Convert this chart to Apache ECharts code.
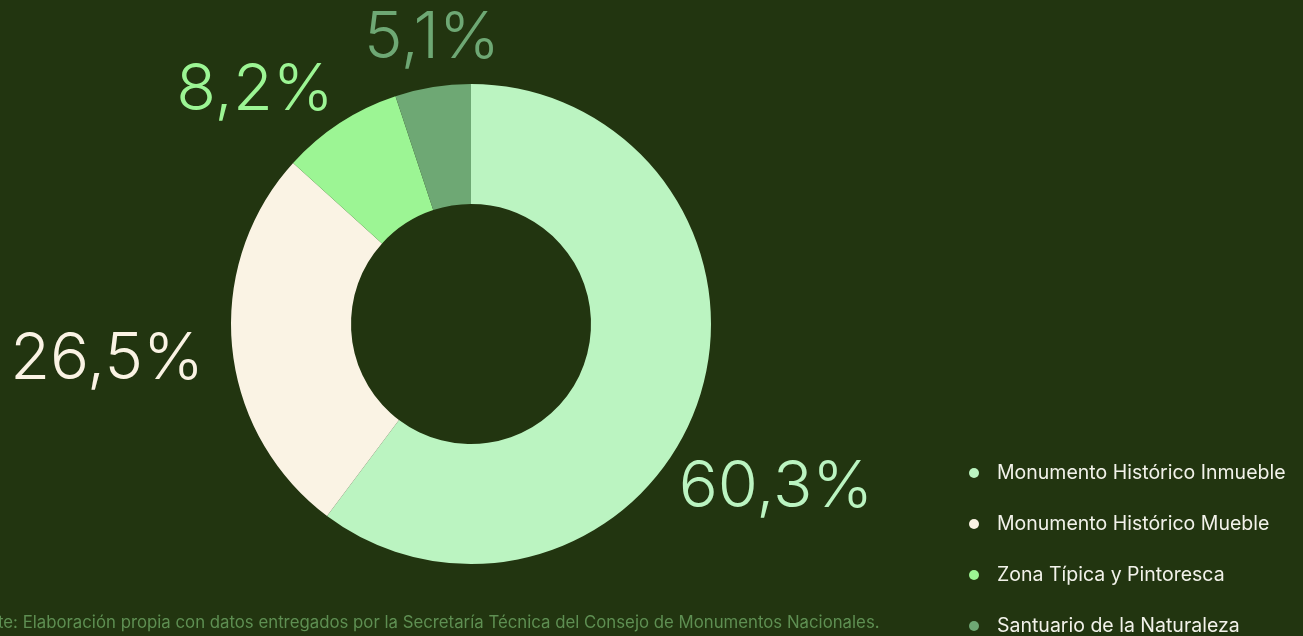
<!DOCTYPE html>
<html>
<head>
<meta charset="utf-8">
<style>
html,body{margin:0;padding:0;background:#223510;}
#c{width:1303px;height:636px;}
</style>
<script src="https://cdn.jsdelivr.net/npm/echarts@6/dist/echarts.min.js"></script>
</head>
<body>
<div id="c"></div>
<script>
const categories = ['Monumento Histórico Inmueble','Monumento Histórico Mueble','Zona Típica y Pintoresca','Santuario de la Naturaleza'];
const values = [60.3, 26.5, 8.2, 5.1];
const labels = ['60,3%','26,5%','8,2%','5,1%'];
const colors = ['#bbf4c1','#faf3e4','#9cf594','#6ea874'];
const source = 'Fuente: Elaboración propia con datos entregados por la Secretaría Técnica del Consejo de Monumentos Nacionales.';

// label offsets from the pie centre (layout only)
const labelOffsets = [[305,163],[-364,35],[-216,-234],[-39,-286]];
const CX = 471, CY = 324;

const chart = echarts.init(document.getElementById('c'));
chart.setOption({
  backgroundColor: '#223510',
  animation: false,
  legend: {
    orient: 'vertical',
    left: 964,
    top: 458,
    height: 260,
    icon: 'circle',
    itemWidth: 10,
    itemHeight: 10,
    itemGap: 31,
    textStyle: {color: '#f2f2ea', fontSize: 19.5, fontFamily: 'Inter', lineHeight: 20, padding: [0,0,0,13]},
    data: categories
  },
  graphic: [{
    type: 'text',
    left: -41,
    top: 614,
    style: {text: source, fill: '#5e8f52', font: '16.8px Inter'}
  }],
  series: [{
    type: 'pie',
    center: [CX, CY],
    radius: [120, 240],
    startAngle: 90,
    clockwise: true,
    avoidLabelOverlap: false,
    itemStyle: {borderWidth: 0},
    label: {
      show: true,
      position: 'outside',
      fontSize: 65,
      fontFamily: 'Inter',
      fontWeight: 300,
      formatter: p => labels[p.dataIndex]
    },
    labelLine: {show: false},
    labelLayout: p => ({
      x: CX + labelOffsets[p.dataIndex][0],
      y: CY + labelOffsets[p.dataIndex][1],
      align: 'center',
      verticalAlign: 'middle'
    }),
    emphasis: {disabled: true},
    data: categories.map((n, i) => ({
      name: n,
      value: values[i],
      itemStyle: {color: colors[i]},
      label: {color: colors[i]}
    }))
  }]
});
</script>
</body>
</html>
